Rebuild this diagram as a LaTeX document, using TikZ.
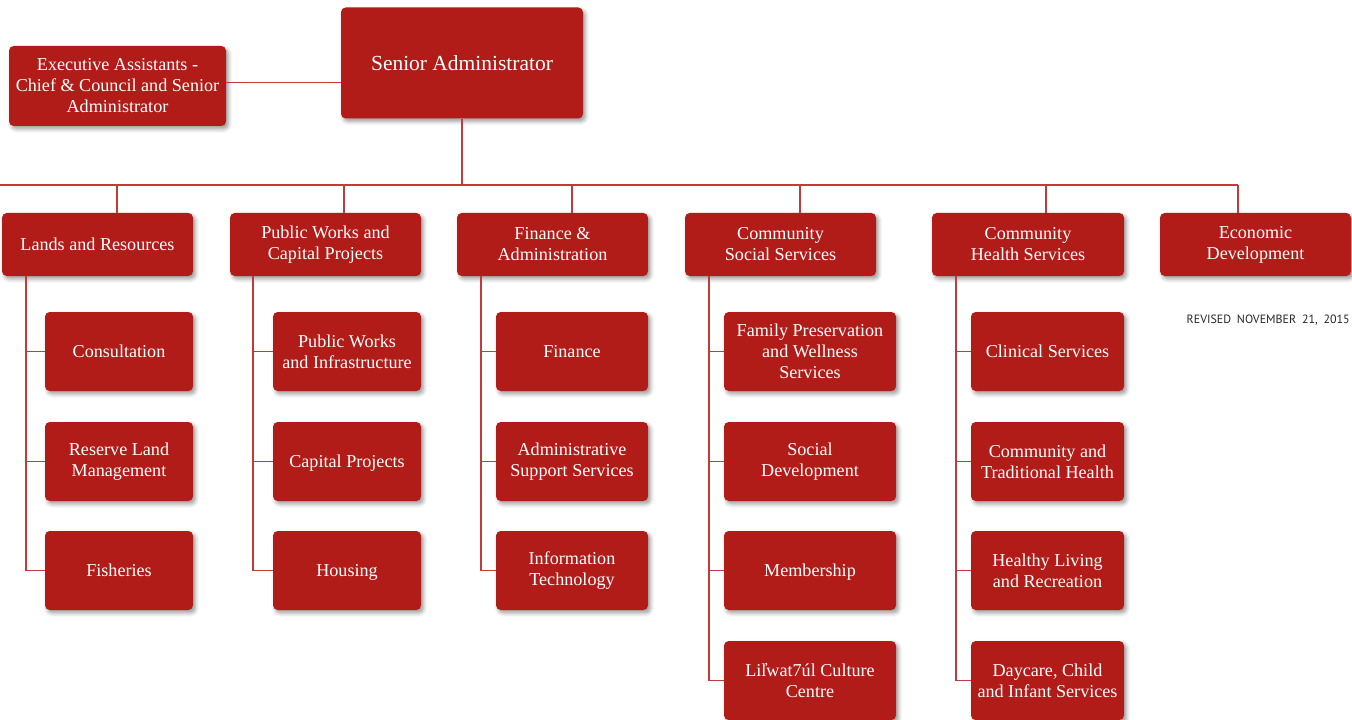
\documentclass[tikz,border=0pt]{standalone}
\usepackage{fontspec}
\setmainfont{Liberation Serif}
\newfontfamily\revfont[WordSpace=1.8]{PT Sans}
\usetikzlibrary{shadows.blur}
\definecolor{boxred}{RGB}{178,28,24}
\definecolor{linered}{RGB}{196,58,58}
\begin{document}
\begin{tikzpicture}[x=0.75pt,y=-0.75pt,
  box/.style={fill=boxred, rounded corners=3.5pt, text=white, align=center, inner sep=0pt,
    font=\fontsize{13.6}{15.75}\selectfont,
    blur shadow={shadow xshift=1.8pt, shadow yshift=-2.2pt, shadow blur radius=3pt, shadow opacity=40}},
  one/.style={text height=9.4pt, text depth=0pt},
  sz/.style 2 args={minimum width=#1*0.75pt, minimum height=#2*0.75pt},
  conn/.style={draw=linered, line width=0.8pt}]
\useasboundingbox (0,0) rectangle (1352,720);

% top level
\node[box, sz={242}{111}, font=\fontsize{16.1}{19}\selectfont] (sa) at (462,63) {Senior Administrator};
\node[box, sz={217}{80}] (ea) at (117.5,86) {Executive Assistants -\\Chief \& Council and Senior\\Administrator};

% second level
\node[box, one, sz={191}{63}] (lands) at (97.5,244.5) {Lands and Resources};
\node[box, sz={191}{63}] (pw) at (325.5,244.5) {Public Works and\\Capital Projects};
\node[box, sz={191}{63}] (fin) at (552.5,244.5) {Finance \&\\Administration};
\node[box, sz={191}{63}] (cs) at (780.5,244.5) {Community\\Social Services};
\node[box, sz={192}{63}] (ch) at (1028,244.5) {Community\\Health Services};
\node[box, sz={191}{63}] (ed) at (1255.5,244.5) {Economic\\Development};

\node[font=\revfont\fontsize{9}{11}\selectfont, text=black!85, anchor=east, inner sep=0pt] (rev) at (1350,320) {REVISED NOVEMBER 21, 2015};

% children
\node[box, one, sz={148}{79}] (l1) at (119,351.5) {Consultation};
\node[box, sz={148}{79}] (l2) at (119,461.5) {Reserve Land\\Management};
\node[box, one, sz={148}{79}] (l3) at (119,570.5) {Fisheries};

\node[box, sz={148}{79}] (p1) at (347,351.5) {Public Works\\and Infrastructure};
\node[box, one, sz={148}{79}] (p2) at (347,461.5) {Capital Projects};
\node[box, one, sz={148}{79}] (p3) at (347,570.5) {Housing};

\node[box, one, sz={152}{79}] (f1) at (572,351.5) {Finance};
\node[box, sz={152}{79}] (f2) at (572,461.5) {Administrative\\Support Services};
\node[box, sz={152}{79}] (f3) at (572,570.5) {Information\\Technology};

\node[box, sz={172}{79}] (s1) at (810,351.5) {Family Preservation\\and Wellness\\Services};
\node[box, sz={172}{79}] (s2) at (810,461.5) {Social\\Development};
\node[box, one, sz={172}{79}] (s3) at (810,570.5) {Membership};
\node[box, sz={172}{79}] (s4) at (810,680.5) {Lil̓wat7úl Culture\\Centre};

\node[box, one, sz={153}{79}] (h1) at (1047.5,351.5) {Clinical Services};
\node[box, sz={153}{79}] (h2) at (1047.5,461.5) {Community and\\Traditional Health};
\node[box, sz={153}{79}] (h3) at (1047.5,570.5) {Healthy Living\\and Recreation};
\node[box, sz={153}{79}] (h4) at (1047.5,680.5) {Daycare, Child\\and Infant Services};

% connectors
\coordinate (busL) at (0,185);
\coordinate (bus) at (462,185);
\coordinate (dL) at (117,185);
\coordinate (dP) at (344,185);
\coordinate (dF) at (572,185);
\coordinate (dS) at (800,185);
\coordinate (dH) at (1046,185);
\coordinate (dE) at (1238,185);

\draw[conn] ([yshift=2.6pt]ea.east) -- ([yshift=2.6pt]ea.east -| sa.west);
\draw[conn] (sa.south) -- (bus);
\draw[conn] (busL) -- (dE);
\draw[conn] (dL) -- (dL |- lands.north);
\draw[conn] (dP) -- (dP |- pw.north);
\draw[conn] (dF) -- (dF |- fin.north);
\draw[conn] (dS) -- (dS |- cs.north);
\draw[conn] (dH) -- (dH |- ch.north);
\draw[conn] (dE) -- (dE |- ed.north);

\coordinate (vL) at (26,0);
\coordinate (vP) at (253,0);
\coordinate (vF) at (481,0);
\coordinate (vS) at (709,0);
\coordinate (vH) at (956,0);

\draw[conn] (vL |- lands.south) -- (vL |- l3.west) -- (l3.west);
\draw[conn] (vL |- l1.west) -- (l1.west);
\draw[conn] (vL |- l2.west) -- (l2.west);

\draw[conn] (vP |- pw.south) -- (vP |- p3.west) -- (p3.west);
\draw[conn] (vP |- p1.west) -- (p1.west);
\draw[conn] (vP |- p2.west) -- (p2.west);

\draw[conn] (vF |- fin.south) -- (vF |- f3.west) -- (f3.west);
\draw[conn] (vF |- f1.west) -- (f1.west);
\draw[conn] (vF |- f2.west) -- (f2.west);

\draw[conn] (vS |- cs.south) -- (vS |- s4.west) -- (s4.west);
\draw[conn] (vS |- s1.west) -- (s1.west);
\draw[conn] (vS |- s2.west) -- (s2.west);
\draw[conn] (vS |- s3.west) -- (s3.west);

\draw[conn] (vH |- ch.south) -- (vH |- h4.west) -- (h4.west);
\draw[conn] (vH |- h1.west) -- (h1.west);
\draw[conn] (vH |- h2.west) -- (h2.west);
\draw[conn] (vH |- h3.west) -- (h3.west);
\end{tikzpicture}
\end{document}
